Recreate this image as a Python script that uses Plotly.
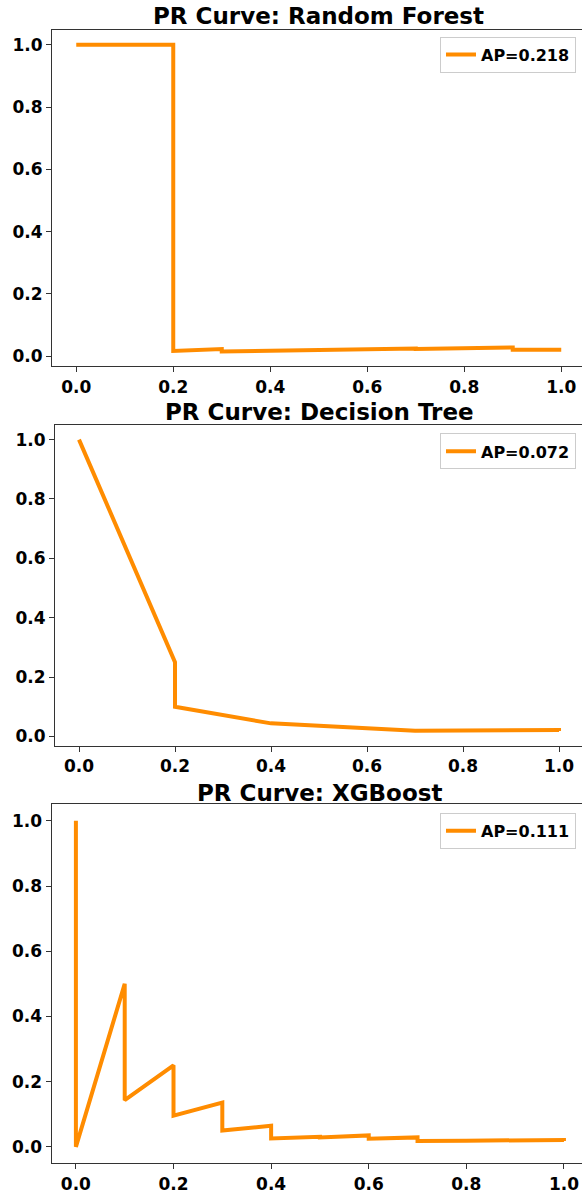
import plotly.graph_objects as go

# ---- data ----
rf_recall = [0.0, 0.2, 0.2, 0.3, 0.3, 0.4, 0.5, 0.5, 0.7, 0.7, 0.9, 0.9, 1.0]
rf_precision = [1.0, 1.0, 0.017, 0.023, 0.015, 0.018, 0.021, 0.019, 0.025, 0.023, 0.028, 0.021, 0.021]

dt_recall = [0.0, 0.2, 0.2, 0.4, 0.7, 1.0, 1.0]
dt_precision = [1.0, 0.25, 0.10, 0.044, 0.019, 0.022, 0.018]

xgb_recall = [0.0, 0.0, 0.1, 0.1, 0.2, 0.2, 0.3, 0.3, 0.4, 0.4, 0.5, 0.5, 0.6, 0.6, 0.7, 0.7, 0.8, 0.9, 1.0, 1.0]
xgb_precision = [1.0, 0.0, 0.5, 0.143, 0.25, 0.096, 0.136, 0.05, 0.065, 0.026, 0.031, 0.029, 0.035, 0.025, 0.029, 0.018, 0.019, 0.020, 0.021, 0.018]

titles = ["PR Curve: Random Forest", "PR Curve: Decision Tree", "PR Curve: XGBoost"]
legend_labels = ["AP=0.218", "AP=0.072", "AP=0.111"]
tick_vals = [0.0, 0.2, 0.4, 0.6, 0.8, 1.0]
tick_text = ["0.0", "0.2", "0.4", "0.6", "0.8", "1.0"]

W, H = 582, 1194
ORANGE = "#FF8C00"
FONT = "DejaVu Sans"

panels = [
    dict(x=rf_recall, y=rf_precision, left=52, xr=[-0.05, 1.0428], yr=[-0.032, 1.048], top=30, bottom=369,
         title_y=16, title_x=318.8, leg_top=37),
    dict(x=dt_recall, y=dt_precision, left=55, xr=[-0.05, 1.0479], yr=[-0.032, 1.049], top=428.3, bottom=751.6,
         title_y=415, title_x=319, leg_top=436.7),
    dict(x=xgb_recall, y=xgb_precision, left=51.5, xr=[-0.05, 1.037], yr=[-0.05, 1.05], top=810.6, bottom=1172,
         title_y=799, title_x=319.7, leg_top=819),
]

fig = go.Figure()
layout = dict(
    width=W, height=H,
    margin=dict(l=0, r=0, t=0, b=0),
    paper_bgcolor="white", plot_bgcolor="white",
    showlegend=True,
    annotations=[],
)

for i, p in enumerate(panels):
    n = "" if i == 0 else str(i + 1)
    leg = "legend" if i == 0 else f"legend{i + 1}"
    fig.add_trace(go.Scatter(
        x=p["x"], y=p["y"], mode="lines", name=legend_labels[i],
        line=dict(color=ORANGE, width=4), xaxis=f"x{n}", yaxis=f"y{n}", legend=leg,
    ))
    common = dict(
        showgrid=False, zeroline=False, showline=True, linecolor="#333333", linewidth=1,
        ticks="outside", ticklen=5, tickwidth=1, tickcolor="#333333",
        tickvals=tick_vals, ticktext=tick_text,
        tickfont=dict(family=FONT, size=17, color="black", weight="bold"),
    )
    layout[f"xaxis{n}"] = dict(common, domain=[p["left"] / W, 1.0], range=p["xr"],
                               anchor=f"y{n}", mirror=True)
    layout[f"yaxis{n}"] = dict(common, domain=[1 - p["bottom"] / H, 1 - p["top"] / H], range=p["yr"],
                               anchor=f"x{n}", mirror=False)
    layout[leg] = dict(
        x=576 / W, xanchor="right", y=1 - p["leg_top"] / H, yanchor="top",
        bgcolor="white", bordercolor="#cccccc", borderwidth=1,
        font=dict(family=FONT, size=16, color="black", weight="bold"),
    )
    layout["annotations"].append(dict(
        text=titles[i], x=p["title_x"] / W, y=1 - p["title_y"] / H, xref="paper", yref="paper",
        xanchor="center", yanchor="middle", showarrow=False,
        font=dict(family=FONT, size=23, color="black", weight="bold"),
    ))

fig.update_layout(**layout)
fig.write_html("out.html")
